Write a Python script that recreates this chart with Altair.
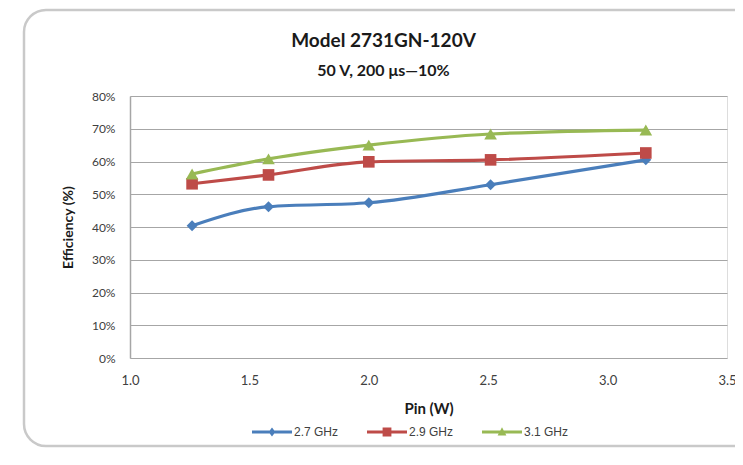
import altair as alt
import pandas as pd

# ---- data ----
pin_w = [1.26, 1.58, 2.0, 2.51, 3.16]
eff_27 = [40.4, 46.2, 47.4, 52.9, 60.5]
eff_29 = [53.2, 55.9, 59.9, 60.5, 62.6]
eff_31 = [56.2, 60.8, 65.0, 68.4, 69.6]
series_names = ["2.7 GHz", "2.9 GHz", "3.1 GHz"]
series_colors = ["#4A7EBB", "#BE4B48", "#98B954"]
series_shapes = ["diamond", "square", "triangle-up"]
y_ticks = [0, 10, 20, 30, 40, 50, 60, 70, 80]
x_ticks = [1.0, 1.5, 2.0, 2.5, 3.0, 3.5]

rows = []
for name, vals in zip(series_names, [eff_27, eff_29, eff_31]):
    for p, v in zip(pin_w, vals):
        rows.append({"series": name, "pin": p, "eff": v})
df = pd.DataFrame(rows)

FONT = "Lato, Open Sans, sans-serif"
LEG_FONT = "Liberation Sans, Arial, sans-serif"

# legend symbols: short line with the marker on it (unit box -1..1)
leg_paths = [
    "M-1,-0.07H1V0.07H-1Z M0,-0.22L0.17,0L0,0.22L-0.17,0Z",
    "M-1,-0.07H1V0.07H-1Z M-0.22,-0.22H0.22V0.22H-0.22Z",
    "M-1,-0.07H1V0.07H-1Z M0,-0.24L0.22,0.18H-0.22Z",
]

color_scale = alt.Scale(domain=series_names, range=series_colors)

x_enc = alt.X("pin:Q", scale=alt.Scale(domain=[1.0, 3.5], nice=False),
              axis=alt.Axis(values=x_ticks, format=".1f", title="Pin (W)",
                            grid=False, ticks=False, domain=False,
                            labelFlush=False,
                            labelPadding=16, titlePadding=14,
                            labelFont=FONT, labelFontSize=13, labelColor="#404040",
                            titleFont=FONT, titleFontSize=15, titleFontWeight="bold",
                            titleColor="#1a1a1a"))
y_enc = alt.Y("eff:Q", scale=alt.Scale(domain=[0, 80], nice=False),
              axis=alt.Axis(values=y_ticks, labelExpr="datum.value + '%'",
                            title="Efficiency  (%)", grid=True, gridColor="#a6a6a6",
                            gridWidth=1.2, ticks=False, domain=True,
                            domainColor="#a6a6a6", domainWidth=1.5,
                            labelOverlap=False, labelFlush=False,
                            labelPadding=15, titlePadding=16,
                            labelFont=FONT, labelFontSize=12, labelColor="#404040",
                            titleFont=FONT, titleFontSize=14, titleFontWeight="bold",
                            titleColor="#1a1a1a"))

base = alt.Chart(df).encode(x=x_enc, y=y_enc)

# decorative rounded outer frame
frame = alt.Chart(pd.DataFrame({"k": [0]})).mark_rect(
    cornerRadius=22, fillOpacity=0, stroke="#c9c9c9", strokeWidth=2.5
).encode(x=alt.value(-106), x2=alt.value(640), y=alt.value(-86), y2=alt.value(350))

line_layers = []
point_layers = []
for name, col, shp, sz in zip(series_names, series_colors, series_shapes, [120, 135, 160]):
    sub = base.transform_filter(alt.datum.series == name)
    line_layers.append(sub.mark_line(interpolate="monotone", strokeWidth=3.2, color=col))
    point_layers.append(sub.mark_point(shape=shp, filled=True, size=sz, opacity=1, color=col))

leg = dict(title=None, orient="none", legendX=122, legendY=316,
           direction="horizontal", symbolSize=1600, symbolOpacity=1,
           symbolStrokeWidth=0, labelFont=LEG_FONT, labelFontSize=12,
           labelColor="#404040", labelOffset=2, columnPadding=28, padding=0)

# invisible layer that only carries the legend
legend_layer = base.mark_point(filled=True, opacity=0).encode(
    color=alt.Color("series:N", scale=color_scale, legend=alt.Legend(**leg)),
    shape=alt.Shape("series:N", scale=alt.Scale(domain=series_names, range=leg_paths),
                    legend=alt.Legend(**leg)),
)

chart = alt.layer(frame, *line_layers, *point_layers, legend_layer).properties(
    width=597, height=262,
    title=alt.TitleParams(
        text="Model 2731GN-120V", subtitle="50 V, 200 \u03bcs\u201410%",
        anchor="middle", dx=-45, dy=84, offset=14, font=FONT, fontSize=19,
        fontWeight="bold", color="#1a1a1a", subtitleFont=FONT,
        subtitleFontSize=16, subtitleFontWeight="bold", subtitleColor="#1a1a1a",
        subtitlePadding=12,
    ),
    autosize=alt.AutoSizeParams(type="none"),
    padding={"left": 122, "top": 88, "right": 8, "bottom": 90},
).configure_view(
    stroke="#d0d0d0", strokeWidth=1.5
).configure(background="white")

chart.save("out.html", embed_options={"renderer": "svg", "actions": False})
